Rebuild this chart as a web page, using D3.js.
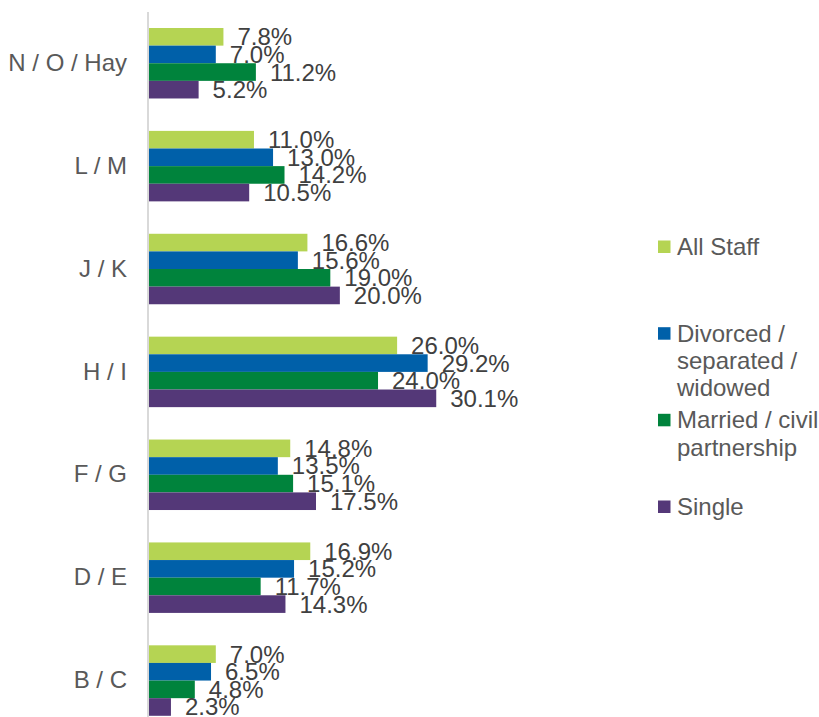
<!DOCTYPE html>
<html>
<head>
<meta charset="utf-8">
<script src="https://cdn.jsdelivr.net/npm/d3@7"></script>
<style>
  html, body { margin: 0; padding: 0; background: #ffffff; }
  svg { display: block; font-family: "Liberation Sans", Arial, sans-serif; }
</style>
</head>
<body>
<svg id="chart" width="819" height="717"></svg>
<script>
// Pay bands, top to bottom
const categories = ["N / O / Hay", "L / M", "J / K", "H / I", "F / G", "D / E", "B / C"];

// Series (percent of each group in each band)
const seriesNames = ["All Staff", "Divorced / separated / widowed", "Married / civil partnership", "Single"];
const legendLines = [["All Staff"], ["Divorced /", "separated /", "widowed"], ["Married / civil", "partnership"], ["Single"]];
const allStaff = [7.8, 11.0, 16.6, 26.0, 14.8, 16.9, 7.0];
const divorced = [7.0, 13.0, 15.6, 29.2, 13.5, 15.2, 6.5];
const married  = [11.2, 14.2, 19.0, 24.0, 15.1, 11.7, 4.8];
const single   = [5.2, 10.5, 20.0, 30.1, 17.5, 14.3, 2.3];
const seriesValues = [allStaff, divorced, married, single];
const colors = ["#b5d453", "#0060a9", "#00833c", "#543878"];

const svg = d3.select("#chart");
const fontSize = 24;

const x = d3.scaleLinear().domain([0, 35]).range([149, 483]);

const y = d3.scaleBand()
  .domain(categories)
  .range([11.8, 732])
  .paddingInner(0.315)
  .paddingOuter(0.1575);

const ySeries = d3.scaleBand()
  .domain(seriesNames)
  .range([0, y.bandwidth()]);

// Bars
const groups = svg.append("g").selectAll("g")
  .data(categories)
  .join("g")
  .attr("transform", d => `translate(0,${y(d)})`);

seriesNames.forEach((name, si) => {
  groups.append("rect")
    .attr("x", x(0))
    .attr("y", ySeries(name))
    .attr("width", (d, ci) => x(seriesValues[si][ci]) - x(0))
    .attr("height", ySeries.bandwidth())
    .attr("fill", colors[si]);
});

// Value labels
seriesNames.forEach((name, si) => {
  groups.append("text")
    .attr("x", (d, ci) => x(seriesValues[si][ci]) + 14)
    .attr("y", ySeries(name) + ySeries.bandwidth() / 2 + fontSize * 0.355)
    .attr("font-size", fontSize)
    .attr("fill", "#404040")
    .text((d, ci) => seriesValues[si][ci].toFixed(1) + "%");
});

// Category axis
const yAxis = d3.axisLeft(y).tickSize(0).tickPadding(21);
const axisG = svg.append("g")
  .attr("transform", `translate(${x(0) - 1},0)`)
  .call(yAxis);
axisG.select(".domain").attr("stroke", "#d9d9d9").attr("stroke-width", 2)
  .attr("d", `M0,12V717`);
axisG.selectAll("text")
  .attr("font-size", fontSize)
  .attr("font-family", "Liberation Sans, Arial, sans-serif")
  .attr("fill", "#595959");

// Legend
const legend = svg.append("g").attr("transform", "translate(658,0)");
const legendBaselines = [255, 341.7, 428.3, 515];
legendLines.forEach((lines, i) => {
  const g = legend.append("g");
  g.append("rect")
    .attr("x", 0)
    .attr("y", legendBaselines[i] - 14.5)
    .attr("width", 12.5)
    .attr("height", 12.5)
    .attr("fill", colors[i]);
  const t = g.append("text")
    .attr("x", 19)
    .attr("y", legendBaselines[i])
    .attr("font-size", fontSize)
    .attr("fill", "#595959");
  lines.forEach((line, li) => {
    t.append("tspan")
      .attr("x", 19)
      .attr("dy", li === 0 ? 0 : 27.3)
      .text(line);
  });
});
</script>
</body>
</html>
